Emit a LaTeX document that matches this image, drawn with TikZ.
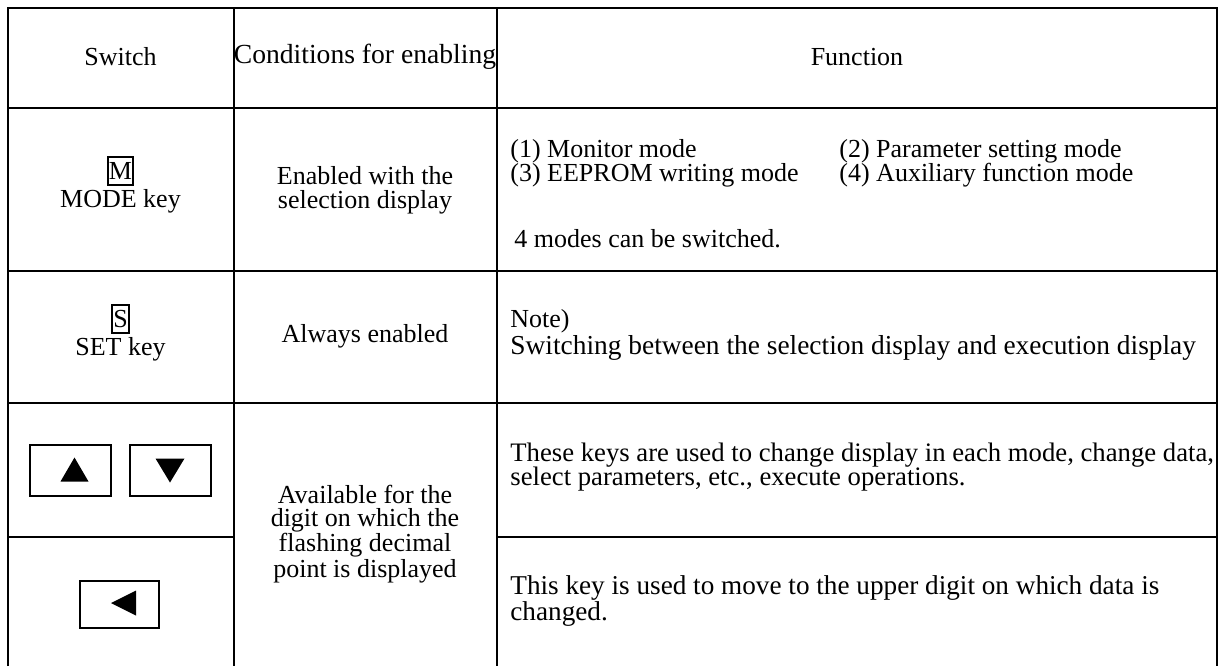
\documentclass[tikz,border=0pt]{standalone}
\usepackage{fontspec}
\setmainfont{Liberation Serif}
\usetikzlibrary{positioning}
\tikzset{
    cell/.style={inner sep=0pt, font=\fontsize{13}{12}\selectfont, align=center},
    lcell/.style={cell, anchor=west, align=left},
    wide/.style={font=\fontsize{13.6}{12.2}\selectfont},
    rule/.style={line width=1pt},
    keycap/.style={draw, line width=0.9pt, inner xsep=0.6pt, inner ysep=0pt,
                   minimum height=14pt, font=\fontsize{13}{12}\selectfont},
    keybox/.style={draw, line width=1pt, inner sep=0pt}
}

\begin{document}
\begin{tikzpicture}[x=0.5pt, y=-0.5pt]
  \useasboundingbox (0,0) rectangle (1224,666);

  % --- table rules ---
  \draw[rule] (7.5,666) -- (7.5,8) -- (1217,8) -- (1217,666);
  \draw[rule] (233.5,8) -- (233.5,666);
  \draw[rule] (497,8) -- (497,666);
  \draw[rule] (7.5,108) -- (1217,108);
  \draw[rule] (7.5,271) -- (1217,271);
  \draw[rule] (7.5,403) -- (1217,403);
  \draw[rule] (7.5,537) -- (233.5,537);
  \draw[rule] (497,537) -- (1217,537);

  % --- header ---
  \node[cell] (hsw)   at (120.5,57) {Switch};
  \node[cell, font=\fontsize{13.8}{12}\selectfont] (hcond) at (365,57)
        {Conditions for enabling};
  \node[cell] (hfun)  at (857,57)   {Function};

  % --- MODE key ---
  \node[keycap] (mkey) at (120.5,171) {M};
  \node[cell] (mode) at (120.5,201) {MODE key};
  \node[cell] (cond1) at (365,190) {Enabled with the\\selection display};
  \node[lcell] (m1) at (510,151) {(1) Monitor mode};
  \node[lcell] (m2) at (839,151) {(2) Parameter setting mode};
  \node[lcell] (m3) at (510,175) {(3) EEPROM writing mode};
  \node[lcell] (m4) at (839,175) {(4) Auxiliary function mode};
  \node[lcell] (m5) at (514,239) {4 modes can be switched.};

  % --- SET key ---
  \node[keycap] (skey) at (120.5,319) {S};
  \node[cell] (set) at (120.5,349) {SET key};
  \node[cell] (cond2) at (365,336) {Always enabled};
  \node[lcell] (f2) at (510,335)
        {Note)\\{\fontsize{13.7}{12}\selectfont Switching between the selection display and execution display}};

  % --- up / down / shift keys ---
  \node[keybox, minimum width=40.5pt, minimum height=25.5pt] (up)   at (70.5,470.5) {};
  \node[keybox, minimum width=40.5pt, minimum height=25.5pt] (down) at (170.5,470.5) {};
  \node[keybox, minimum width=39.5pt, minimum height=23.5pt] (left) at (119.5,604.5) {};
  \fill ([shift={(-10,11)}]up.center) -- ([shift={(18,11)}]up.center)
        -- ([shift={(4,-13)}]up.center) -- cycle;
  \fill ([shift={(-15,-12)}]down.center) -- ([shift={(14,-12)}]down.center)
        -- ([shift={(-0.5,12)}]down.center) -- cycle;
  \fill ([shift={(-8.5,-1.5)}]left.center) -- ([shift={(16.5,-14)}]left.center)
        -- ([shift={(16.5,11)}]left.center) -- cycle;

  \node[cell, font=\fontsize{13}{11.5}\selectfont] (cond3) at (365,534)
        {Available for the\\digit on which the\\flashing decimal\\point is displayed};
  \node[lcell, font=\fontsize{13.35}{12.3}\selectfont] (f3) at (510,467)
        {These keys are used to change display in each mode, change data,\\select parameters, etc., execute operations.};
  \node[lcell, wide] (f4) at (510,601)
        {This key is used to move to the upper digit on which data is\\changed.};

\end{tikzpicture}
\end{document}
